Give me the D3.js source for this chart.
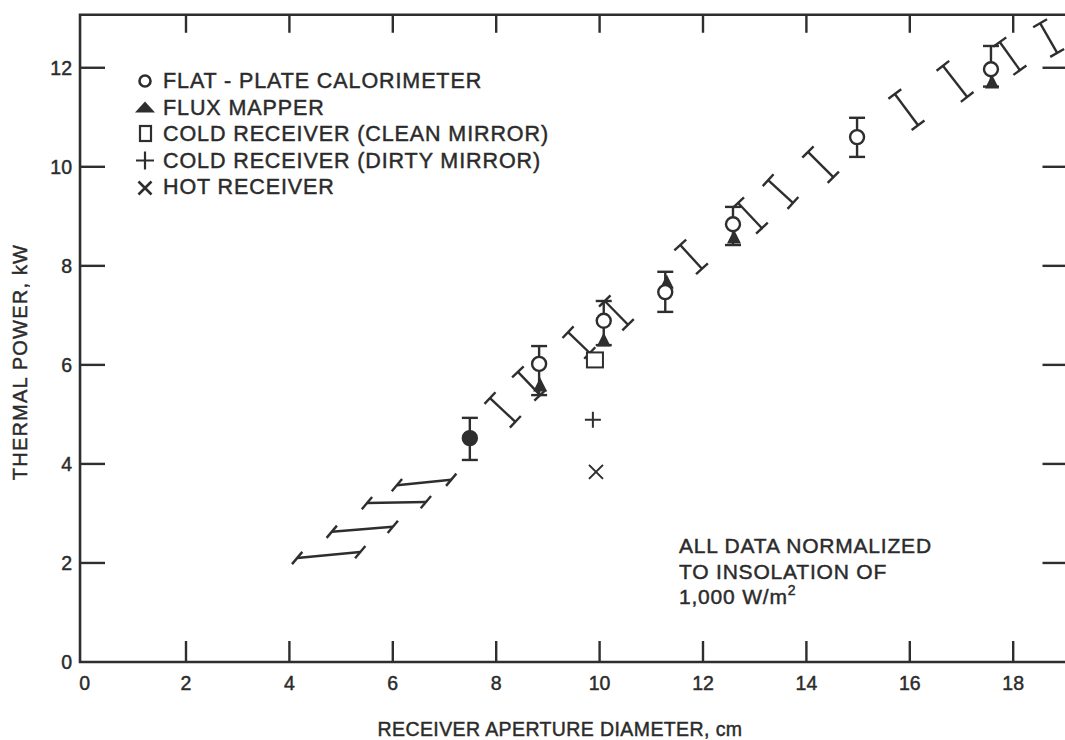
<!DOCTYPE html>
<html>
<head>
<meta charset="utf-8">
<script src="https://cdn.jsdelivr.net/npm/d3@7"></script>
<style>
  html, body { margin: 0; padding: 0; background: #fff; }
  svg { display: block; }
  text { font-family: "Liberation Sans", Arial, Helvetica, sans-serif; fill: #2b2b2b; stroke: #2b2b2b; stroke-width: 0.45px; }
</style>
</head>
<body>
<svg id="chart" width="1065" height="740"></svg>
<script>
(function () {
// ---------- data ----------
const xTicks = [0, 2, 4, 6, 8, 10, 12, 14, 16, 18];
const yTicks = [0, 2, 4, 6, 8, 10, 12];
const xTitle = "RECEIVER APERTURE DIAMETER, cm";
const yTitle = "THERMAL POWER, kW";

// flat-plate calorimeter (value with vertical error bar)
const calX  = [7.49, 8.83, 10.08, 11.27, 12.58, 14.98, 17.57];
const calY  = [4.52, 6.02, 6.89, 7.47, 8.84, 10.60, 11.97];
const calLo = [4.08, 5.39, 6.40, 7.07, 8.42, 10.20, 11.62];
const calHi = [4.93, 6.38, 7.29, 7.88, 9.19, 10.99, 12.44];

// flux mapper
const fluxX = [8.85, 10.08, 11.30, 12.60, 17.59];
const fluxY = [5.59, 6.50, 7.67, 8.58, 11.71];

// cold receiver (clean mirror), cold receiver (dirty mirror), hot receiver
const cleanX = [9.91], cleanY = [6.10];
const dirtyX = [9.87], dirtyY = [4.89];
const hotX   = [9.93], hotY   = [3.84];

// predicted range bars (segment end points)
const predX1 = [4.15, 4.82, 5.50, 6.08, 7.88, 8.42, 9.39, 10.10, 11.56, 12.68, 13.26, 14.03, 15.71, 16.64, 17.74, 18.52];
const predY1 = [2.10, 2.63, 3.21, 3.57, 5.33, 5.86, 6.66, 7.29, 8.42, 9.27, 9.73, 10.30, 11.47, 12.04, 12.52, 12.90];
const predX2 = [5.37, 6.00, 6.64, 7.13, 8.37, 8.85, 9.81, 10.55, 11.98, 13.14, 13.74, 14.52, 16.16, 17.11, 18.13, 18.85];
const predY2 = [2.22, 2.73, 3.23, 3.68, 4.85, 5.39, 6.24, 6.81, 7.94, 8.76, 9.27, 9.79, 10.84, 11.41, 11.95, 12.30];

const legendLabels = [
  "FLAT - PLATE CALORIMETER",
  "FLUX MAPPER",
  "COLD RECEIVER (CLEAN MIRROR)",
  "COLD RECEIVER (DIRTY MIRROR)",
  "HOT RECEIVER"
];
const noteLines = ["ALL DATA NORMALIZED", "TO INSOLATION OF", "1,000 W/m"];

// ---------- drawing ----------
const ink = "#2e2e2e";
const svg = d3.select("#chart");

const xs = d3.scaleLinear().domain([0, 19]).range([82.6, 82.6 + 19 * 51.7]);
const ys = d3.scaleLinear().domain([0, 13]).range([662, 662 - 13 * 49.52]);

const fL = xs(-0.05), fR = xs(19.05), fB = ys(0), fT = ys(13.07);

const g = svg.append("g");

// frame
g.append("path")
  .attr("d", `M${fR},${fT}H${fL}V${fB}H${fR}`)
  .attr("fill", "none").attr("stroke", ink).attr("stroke-width", 2.6);

// ticks
const tickStyle = s => s.attr("stroke", ink).attr("stroke-width", 2.4);
g.selectAll(".tb").data(xTicks.filter(d => d > 0)).enter().append("line")
  .attr("x1", d => xs(d)).attr("x2", d => xs(d))
  .attr("y1", fB).attr("y2", fB - 21).call(tickStyle);
g.selectAll(".tt").data(xTicks.filter(d => d > 0)).enter().append("line")
  .attr("x1", d => xs(d)).attr("x2", d => xs(d))
  .attr("y1", fT).attr("y2", fT + 18).call(tickStyle);
g.selectAll(".tl").data(yTicks.filter(d => d > 0)).enter().append("line")
  .attr("x1", fL).attr("x2", fL + 25)
  .attr("y1", d => ys(d)).attr("y2", d => ys(d)).call(tickStyle);
g.selectAll(".tr").data(yTicks.filter(d => d > 0)).enter().append("line")
  .attr("x1", fR).attr("x2", fR - 25)
  .attr("y1", d => ys(d)).attr("y2", d => ys(d)).call(tickStyle);

// tick labels
g.selectAll(".xl").data(xTicks).enter().append("text")
  .attr("x", d => xs(d) + (d === 0 ? 2 : 0)).attr("y", fB + 28)
  .attr("text-anchor", "middle").attr("font-size", 19.5)
  .text(d => d);
g.selectAll(".yl").data(yTicks).enter().append("text")
  .attr("x", 72).attr("y", d => ys(d) + 7)
  .attr("text-anchor", "end").attr("font-size", 19.5)
  .text(d => d);

// axis titles
g.append("text").attr("x", 560).attr("y", 736)
  .attr("text-anchor", "middle").attr("font-size", 19.5)
  .attr("letter-spacing", 0.4).text(xTitle);
g.append("text").attr("transform", "translate(27,362) rotate(-90)")
  .attr("text-anchor", "middle").attr("font-size", 20)
  .attr("letter-spacing", 1.2).text(yTitle);

// predicted range bars
const preds = predX1.map((d, i) => ({
  p1: [xs(d), ys(predY1[i])], p2: [xs(predX2[i]), ys(predY2[i])]
}));
const capLen = 16;
const pg = g.append("g").attr("stroke", ink).attr("stroke-width", 2.4).attr("fill", "none");
preds.forEach(b => {
  const th = Math.atan2(b.p2[1] - b.p1[1], b.p2[0] - b.p1[0]);
  const ca = Math.max(th - Math.PI / 2, -50 * Math.PI / 180);
  const dx = Math.cos(ca) * capLen / 2, dy = Math.sin(ca) * capLen / 2;
  pg.append("line").attr("x1", b.p1[0]).attr("y1", b.p1[1]).attr("x2", b.p2[0]).attr("y2", b.p2[1]);
  [b.p1, b.p2].forEach(p => {
    pg.append("line").attr("x1", p[0] - dx).attr("y1", p[1] - dy)
      .attr("x2", p[0] + dx).attr("y2", p[1] + dy);
  });
});

// calorimeter error bars
const eg = g.append("g").attr("stroke", ink).attr("stroke-width", 2.4);
calX.forEach((x, i) => {
  const px = xs(x);
  eg.append("line").attr("x1", px).attr("x2", px).attr("y1", ys(calLo[i])).attr("y2", ys(calHi[i]));
  [calLo[i], calHi[i]].forEach(v => {
    eg.append("line").attr("x1", px - 8).attr("x2", px + 8).attr("y1", ys(v)).attr("y2", ys(v));
  });
});

// flux mapper triangles
const tri = (cx, cy, s) => `M${cx},${cy - s * 0.55}L${cx + s / 2},${cy + s * 0.45}L${cx - s / 2},${cy + s * 0.45}Z`;
g.selectAll(".flux").data(fluxX).enter().append("path")
  .attr("d", (d, i) => tri(xs(d), ys(fluxY[i]), 14))
  .attr("fill", ink);

// calorimeter circles
g.selectAll(".cal").data(calX).enter().append("circle")
  .attr("cx", d => xs(d)).attr("cy", (d, i) => ys(calY[i])).attr("r", 7)
  .attr("fill", (d, i) => i === 0 ? ink : "#fff")
  .attr("stroke", ink).attr("stroke-width", 2.4);

// cold receiver clean: square
g.selectAll(".clean").data(cleanX).enter().append("rect")
  .attr("x", d => xs(d) - 8).attr("y", (d, i) => ys(cleanY[i]) - 7.5)
  .attr("width", 16).attr("height", 15)
  .attr("fill", "#fff").attr("stroke", ink).attr("stroke-width", 2);

// cold receiver dirty: plus ; hot receiver: cross
const plus = (cx, cy, s) => `M${cx - s},${cy}H${cx + s}M${cx},${cy - s}V${cy + s}`;
const cross = (cx, cy, s) => `M${cx - s},${cy - s}L${cx + s},${cy + s}M${cx - s},${cy + s}L${cx + s},${cy - s}`;
g.selectAll(".dirty").data(dirtyX).enter().append("path")
  .attr("d", (d, i) => plus(xs(d), ys(dirtyY[i]), 8))
  .attr("stroke", ink).attr("stroke-width", 2).attr("fill", "none");
g.selectAll(".hot").data(hotX).enter().append("path")
  .attr("d", (d, i) => cross(xs(d), ys(hotY[i]), 7))
  .attr("stroke", ink).attr("stroke-width", 2).attr("fill", "none");

// legend
const lx = 145, ly0 = 80, lstep = 26.5;
const lg = g.append("g");
legendLabels.forEach((t, i) => {
  lg.append("text").attr("x", lx + 18).attr("y", ly0 + i * lstep + 8)
    .attr("font-size", 21.5).attr("letter-spacing", 0.9).text(t);
});
lg.append("circle").attr("cx", lx).attr("cy", ly0 + 1).attr("r", 5.5)
  .attr("fill", "#fff").attr("stroke", ink).attr("stroke-width", 2.6);
lg.append("path").attr("d", `M${lx - 10},${ly0 + lstep + 6}L${lx},${ly0 + lstep - 5}L${lx + 10},${ly0 + lstep + 6}Z`).attr("fill", ink);
lg.append("rect").attr("x", lx - 5).attr("y", ly0 + 2 * lstep - 7).attr("width", 11).attr("height", 15)
  .attr("fill", "#fff").attr("stroke", ink).attr("stroke-width", 2.2);
lg.append("path").attr("d", plus(lx, ly0 + 3 * lstep + 1, 9)).attr("stroke", ink).attr("stroke-width", 2.2);
lg.append("path").attr("d", cross(lx, ly0 + 4 * lstep + 2, 6.5)).attr("stroke", ink).attr("stroke-width", 2.6);

// note
const ng = g.append("g");
noteLines.forEach((t, i) => {
  const tx = ng.append("text").attr("x", 679).attr("y", 553 + i * 25.5)
    .attr("font-size", 21).attr("letter-spacing", 0.8).text(t);
  if (i === noteLines.length - 1) {
    tx.append("tspan").attr("dy", -9).attr("font-size", 14).text("2");
  }
});
})();
</script>
</body>
</html>
